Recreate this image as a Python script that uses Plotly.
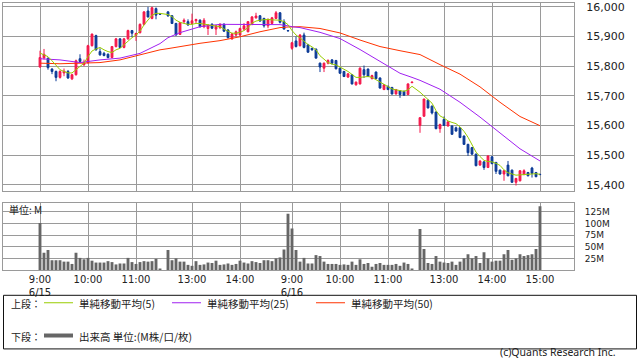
import plotly.graph_objects as go
import pandas as pd

# ---------------- data ----------------
days = ["2016-06-15", "2016-06-16"]


def session_times(day):
    am = pd.date_range(f"{day} 09:00", f"{day} 11:30", freq="5min")
    pm = pd.date_range(f"{day} 12:30", f"{day} 15:00", freq="5min")
    return list(am) + list(pm)


times = [t.strftime("%Y-%m-%d %H:%M") for d in days for t in session_times(d)]

open_d1 = [15797, 15828, 15826, 15790, 15782, 15762, 15777, 15782, 15757, 15771, 15825, 15805, 15812, 15869, 15903, 15849,
           15843, 15840, 15829, 15866, 15892, 15863, 15892, 15920, 15904, 15913, 15941, 15986, 15961, 15994, 15976,
           15983, 15970, 15944, 15907, 15950, 15950, 15944, 15953, 15955, 15933, 15927, 15941, 15925, 15930, 15941, 15922,
           15892, 15905, 15905, 15925, 15916, 15941, 15963, 15970, 15961, 15936, 15944, 15961, 15980, 15950, 15920]
high_d1 = [15852, 15858, 15830, 15793, 15785, 15786, 15792, 15787, 15774, 15822, 15840, 15822, 15872, 15910, 15906, 15860,
           15848, 15843, 15868, 15895, 15894, 15895, 15923, 15922, 15913, 15944, 15986, 16000, 16000, 15998, 15977,
           15986, 15972, 15946, 15949, 15961, 15958, 15977, 15960, 15958, 15962, 15942, 15945, 15938, 15945, 15945, 15925,
           15912, 15920, 15930, 15945, 15952, 15969, 15980, 15972, 15963, 15960, 15966, 15986, 15982, 15958, 15920]
low_d1 = [15795, 15822, 15788, 15773, 15749, 15758, 15766, 15757, 15753, 15768, 15812, 15800, 15808, 15866, 15852, 15835,
          15833, 15826, 15827, 15863, 15861, 15860, 15889, 15898, 15885, 15910, 15938, 15964, 15958, 15958, 15974,
          15966, 15942, 15903, 15905, 15944, 15936, 15940, 15945, 15930, 15928, 15905, 15925, 15905, 15925, 15915, 15893,
          15889, 15900, 15902, 15920, 15914, 15938, 15960, 15950, 15930, 15928, 15942, 15959, 15944, 15924, 15918]
close_d1 = [15829, 15840, 15795, 15782, 15762, 15782, 15783, 15760, 15771, 15818, 15816, 15812, 15869, 15908, 15855, 15838,
            15836, 15829, 15866, 15892, 15863, 15892, 15920, 15911, 15910, 15941, 15983, 15966, 15997, 15972, 15975,
            15970, 15944, 15905, 15947, 15955, 15939, 15953, 15957, 15933, 15955, 15938, 15928, 15936, 15941, 15918, 15896,
            15909, 15916, 15927, 15936, 15950, 15966, 15969, 15952, 15936, 15958, 15963, 15980, 15948, 15925, 15919]

open_d2 = [15860, 15885, 15869, 15905, 15872, 15860, 15857, 15810, 15793, 15810, 15821, 15819, 15793, 15782, 15763, 15771,
           15737, 15740, 15788, 15790, 15758, 15780, 15760, 15721, 15732, 15728, 15706, 15717, 15715, 15704, 15744,
           15600, 15631, 15685, 15665, 15645, 15589, 15620, 15598, 15598, 15592, 15592, 15564, 15536, 15525, 15503, 15466,
           15477, 15458, 15494, 15475, 15449, 15436, 15466, 15449, 15408, 15413, 15434, 15441, 15456, 15441, 15435]
high_d2 = [15882, 15900, 15908, 15913, 15875, 15862, 15860, 15812, 15812, 15823, 15824, 15821, 15795, 15784, 15776, 15773,
           15748, 15796, 15802, 15792, 15771, 15782, 15762, 15739, 15734, 15730, 15723, 15719, 15717, 15742, 15747,
           15628, 15690, 15687, 15667, 15647, 15606, 15630, 15614, 15600, 15596, 15594, 15566, 15538, 15527, 15505, 15482,
           15479, 15499, 15496, 15477, 15451, 15449, 15480, 15451, 15423, 15449, 15452, 15443, 15460, 15443, 15435]
low_d2 = [15855, 15863, 15866, 15860, 15845, 15852, 15825, 15780, 15780, 15806, 15805, 15789, 15774, 15763, 15760, 15738,
          15734, 15738, 15760, 15763, 15755, 15756, 15724, 15719, 15719, 15704, 15704, 15693, 15700, 15702, 15743,
          15575, 15629, 15657, 15637, 15587, 15575, 15598, 15596, 15568, 15579, 15557, 15534, 15497, 15501, 15462, 15464,
          15450, 15456, 15469, 15436, 15434, 15413, 15428, 15406, 15397, 15411, 15432, 15428, 15424, 15425, 15433]
close_d2 = [15879, 15866, 15905, 15863, 15847, 15855, 15827, 15797, 15810, 15819, 15810, 15791, 15776, 15765, 15774, 15740,
            15746, 15793, 15771, 15765, 15768, 15758, 15726, 15737, 15721, 15706, 15721, 15704, 15702, 15740, 15746,
            15626, 15689, 15659, 15642, 15589, 15603, 15600, 15612, 15570, 15581, 15559, 15536, 15508, 15503, 15464, 15480,
            15458, 15497, 15471, 15445, 15436, 15447, 15430, 15408, 15421, 15447, 15447, 15430, 15438, 15427, 15434]

# volume, million shares
volume_d1 = [101, 37, 43, 21, 21, 21, 18, 18, 13, 37, 26, 23, 26, 20, 16, 16, 16, 19, 17, 12, 14, 14, 26, 17, 13, 17, 19,
             18, 19, 24, 3,
             43, 21, 25, 18, 18, 11, 9, 19, 11, 12, 16, 15, 20, 11, 12, 14, 11, 13, 20, 16, 14, 19, 17, 15, 21, 21, 19,
             25, 27, 44, 121]
volume_d2 = [89, 43, 18, 26, 14, 14, 32, 30, 18, 13, 13, 13, 11, 12, 11, 18, 11, 23, 13, 15, 7, 13, 15, 11, 11, 11, 13,
             9, 16, 13, 2,
             88, 45, 15, 13, 30, 18, 16, 15, 18, 11, 18, 25, 34, 25, 30, 15, 38, 25, 18, 20, 20, 34, 43, 22, 25, 34, 30,
             32, 34, 45, 137]

# simple moving average (5), one value per bar
ma5_d1 = [15844, 15838, 15832, 15818, 15801, 15788, 15782, 15777, 15777, 15788, 15797, 15810, 15832, 15851, 15858, 15863,
          15855, 15849, 15846, 15855, 15860, 15872, 15885, 15896, 15905, 15918, 15939, 15955, 15972, 15978, 15978,
          15974, 15967, 15955, 15948, 15944, 15941, 15941, 15944, 15944, 15942, 15941, 15937, 15935, 15933, 15925, 15918,
          15911, 15911, 15914, 15920, 15930, 15945, 15952, 15955, 15957, 15958, 15956, 15955, 15955, 15950, 15940]
ma5_d2 = [15920, 15905, 15895, 15883, 15873, 15865, 15855, 15835, 15822, 15812, 15807, 15804, 15797, 15790, 15782, 15772,
          15762, 15762, 15764, 15765, 15762, 15754, 15745, 15737, 15729, 15723, 15720, 15717, 15715, 15720, 15732,
          15712, 15700, 15690, 15675, 15650, 15632, 15625, 15615, 15610, 15606, 15595, 15580, 15560, 15535, 15510, 15495,
          15482, 15478, 15477, 15472, 15465, 15450, 15440, 15436, 15432, 15433, 15434, 15434, 15436, 15437, 15435]

# MA(25) and MA(50), read at these bar times
ma_times = ["2016-06-15 09:00", "2016-06-15 09:25", "2016-06-15 09:50", "2016-06-15 10:15", "2016-06-15 10:40",
            "2016-06-15 11:05", "2016-06-15 11:30", "2016-06-15 12:30", "2016-06-15 12:45", "2016-06-15 13:10",
            "2016-06-15 13:35", "2016-06-15 14:00", "2016-06-15 14:25", "2016-06-15 14:50", "2016-06-15 15:00",
            "2016-06-16 09:00", "2016-06-16 09:10", "2016-06-16 09:35", "2016-06-16 10:00", "2016-06-16 10:25",
            "2016-06-16 10:50", "2016-06-16 11:15", "2016-06-16 11:30", "2016-06-16 12:30", "2016-06-16 12:55",
            "2016-06-16 13:20", "2016-06-16 13:45", "2016-06-16 14:10", "2016-06-16 14:35", "2016-06-16 15:00"]
ma25 = [15825, 15821, 15812, 15821, 15827, 15843, 15876, 15896, 15913, 15933, 15941, 15941, 15941, 15940, 15936,
        15933, 15930, 15914, 15893, 15856, 15816, 15776, 15762, 15752, 15722, 15678, 15628, 15575, 15521, 15480]
ma50 = [15810, 15808, 15810, 15812, 15821, 15838, 15855, 15859, 15866, 15877, 15886, 15899, 15916, 15930, 15932,
        15933, 15933, 15927, 15912, 15888, 15866, 15852, 15844, 15839, 15805, 15773, 15730, 15678, 15630, 15599]

price_ticks = [15400, 15500, 15600, 15700, 15800, 15900, 16000]
volume_ticks = [25, 50, 75, 100, 125]
volume_tick_labels = ["25M", "50M", "75M", "100M", "125M"]
x_ticks = ["2016-06-15 09:00", "2016-06-15 10:00", "2016-06-15 11:00", "2016-06-15 13:00", "2016-06-15 14:00",
           "2016-06-16 09:00", "2016-06-16 10:00", "2016-06-16 11:00", "2016-06-16 13:00", "2016-06-16 14:00",
           "2016-06-16 15:00"]
x_tick_labels = ["9:00<br>6/15", "10:00", "11:00", "13:00", "14:00", "9:00<br>6/16", "10:00", "11:00", "13:00",
                 "14:00", "15:00"]

# ---------------- styling ----------------
UP = "#f5174a"
DOWN = "#0b3a96"
C_MA5 = "#99cc00"
C_MA25 = "#a020f0"
C_MA50 = "#ff3300"
GRID = "#9a9a9a"
TXT = "#222222"
FONT = "Noto Sans CJK JP, DejaVu Sans, sans-serif"
NUMFONT = "DejaVu Sans, sans-serif"

W, H = 638, 362
L, R, T, B = 3, 574, 1, 270   # plot area in pixels


def px(x):
    return (x - L) / (R - L)


def py(y):
    return (B - y) / (B - T)


breaks = [dict(bounds=["2016-06-15 11:35", "2016-06-15 12:25"]),
          dict(bounds=["2016-06-15 15:02:30", "2016-06-16 08:57:30"]),
          dict(bounds=["2016-06-16 11:35", "2016-06-16 12:25"])]
xrange = ["2016-06-15 08:13:45", "2016-06-16 15:42:30"]

fig = go.Figure()
fig.add_trace(go.Candlestick(
    x=times, open=open_d1 + open_d2, high=high_d1 + high_d2, low=low_d1 + low_d2, close=close_d1 + close_d2,
    increasing=dict(line=dict(color=UP, width=1), fillcolor=UP),
    decreasing=dict(line=dict(color=DOWN, width=1), fillcolor=DOWN),
    whiskerwidth=0, xaxis="x", yaxis="y", showlegend=False, hoverinfo="skip"))
fig.add_trace(go.Scatter(x=ma_times, y=ma50, mode="lines", line=dict(color=C_MA50, width=1),
                         xaxis="x", yaxis="y", showlegend=False, hoverinfo="skip"))
fig.add_trace(go.Scatter(x=ma_times, y=ma25, mode="lines", line=dict(color=C_MA25, width=1),
                         xaxis="x", yaxis="y", showlegend=False, hoverinfo="skip"))
fig.add_trace(go.Scatter(x=times, y=ma5_d1 + ma5_d2, mode="lines", line=dict(color=C_MA5, width=1),
                         xaxis="x", yaxis="y", showlegend=False, hoverinfo="skip"))
fig.add_trace(go.Bar(x=times, y=volume_d1 + volume_d2, marker=dict(color="#666666", line=dict(width=0)),
                     xaxis="x2", yaxis="y2", showlegend=False, hoverinfo="skip"))

top_lo = py(190)
bot_hi = py(202)

axis_common = dict(showgrid=True, gridcolor=GRID, gridwidth=1, showline=True, linecolor=GRID, linewidth=1,
                   mirror=True, zeroline=False)

fig.update_layout(
    width=W, height=H,
    margin=dict(l=L, r=W - R, t=T, b=H - B, pad=0),
    paper_bgcolor="white", plot_bgcolor="white",
    font=dict(family=FONT, size=10, color=TXT),
    showlegend=False,
    boxgap=0.35, bargap=0.28,
    xaxis=dict(domain=[0, 1], anchor="y", range=xrange, rangebreaks=breaks, tickvals=x_ticks,
               showticklabels=False, ticks="", rangeslider=dict(visible=False), **axis_common),
    yaxis=dict(domain=[top_lo, 1], anchor="x", side="right", range=[15380, 16013], tickvals=price_ticks,
               tickformat=",", ticks="outside", ticklen=9, tickcolor="rgba(0,0,0,0)", ticklabeloverflow="allow",
               tickfont=dict(size=11, color=TXT, family=NUMFONT), **axis_common),
    xaxis2=dict(domain=[0, 1], anchor="y2", matches="x", range=xrange, rangebreaks=breaks, tickvals=x_ticks,
                ticktext=x_tick_labels, ticks="", tickfont=dict(size=10, color=TXT, family=NUMFONT),
                **axis_common),
    yaxis2=dict(domain=[0, bot_hi], anchor="x2", side="right", range=[0, 145], tickvals=volume_ticks,
                ticktext=volume_tick_labels, ticks="outside", ticklen=8, tickcolor="rgba(0,0,0,0)",
                tickfont=dict(size=9, color=TXT, family=NUMFONT), **axis_common),
)

ann = []
shapes = []


def text(x, y, s, size=10, anchor="left", family=FONT, yanchor="middle"):
    ann.append(dict(x=px(x), y=py(y), xref="paper", yref="paper", text=s, showarrow=False,
                    xanchor=anchor, yanchor=yanchor, font=dict(size=size, color=TXT, family=family)))


def hline(x0, x1, y, color, width):
    shapes.append(dict(type="line", xref="paper", yref="paper", x0=px(x0), x1=px(x1), y0=py(y), y1=py(y),
                       line=dict(color=color, width=width)))


text(7, 209, "単位: M", 10)

# legend box
shapes.append(dict(type="rect", xref="paper", yref="paper", x0=px(3.5), x1=px(636.5), y0=py(295.5), y1=py(349.5),
                   line=dict(color="#111111", width=1), fillcolor="rgba(0,0,0,0)"))
LY1, LY2 = 304, 337
text(9, LY1, "上段：", 10)
hline(44, 73, LY1 - 1, C_MA5, 1)
text(77, LY1, "単純移動平均(5)", 10.5)
hline(172, 201, LY1 - 1, C_MA25, 1)
text(205, LY1, "単純移動平均(25)", 10.5)
hline(316, 345, LY1 - 1, C_MA50, 1)
text(349, LY1, "単純移動平均(50)", 10.5)
text(9, LY2, "下段：", 10)
hline(44, 73, LY2 - 1, "#666666", 4)
text(77, LY2, "出来高 単位:(M株/口/枚)", 10.5)
text(618, 361.5, "(c)Quants Research Inc.", 10.5, anchor="right", family="Noto Sans, sans-serif", yanchor="bottom")

fig.update_layout(annotations=ann, shapes=shapes)
fig.write_html("out.html", config={"displayModeBar": False},
               post_script="document.body.style.margin='0';document.body.style.overflow='hidden';")
